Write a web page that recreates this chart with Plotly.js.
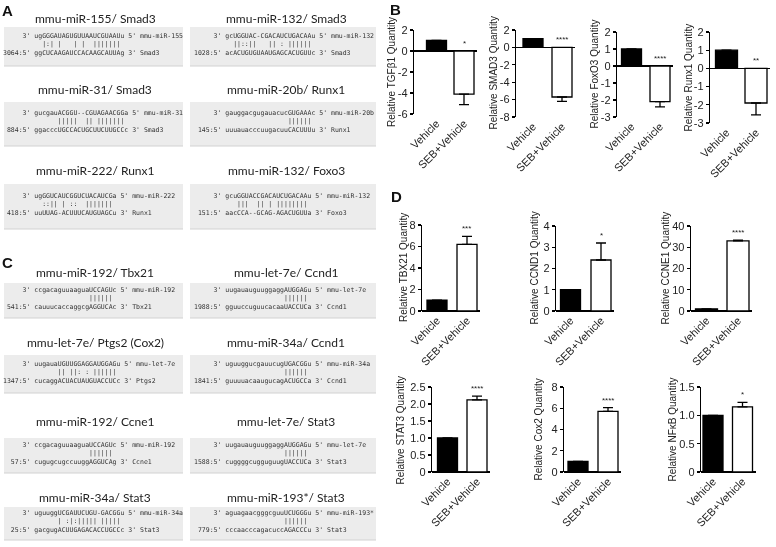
<!DOCTYPE html>
<html><head><meta charset="utf-8">
<script src="https://cdn.plot.ly/plotly-3.0.1.min.js"></script>
<style>html,body{margin:0;padding:0;background:#fff;}#chart{width:776px;height:547px;}#chart .main-svg{will-change:transform;}</style>
</head><body><div id="chart"></div>
<script>
// ---------------- DATA ----------------
const groups = ["Vehicle", "SEB+Vehicle"];
const genes = ["TGFβ1", "SMAD3", "FoxO3", "Runx1", "TBX21", "CCND1", "CCNE1", "STAT3", "Cox2", "NFκB"];
const vehicleValues = [1, 1, 1, 1, 1, 1, 1, 1, 1, 1];
const sebValues = [-4.1, -5.7, -2.1, -1.9, 6.2, 2.4, 33.0, 2.12, 5.7, 1.15];
const sebErrors = [1.0, 0.5, 0.3, 0.65, 0.75, 0.8, 0.4, 0.11, 0.35, 0.08];
const sigLabels = ["*", "****", "****", "**", "***", "*", "****", "****", "****", "*"];
const yRanges = [[-6, 2], [-8, 2], [-3, 2], [-3, 2], [0, 8], [0, 4], [0, 40], [0, 2.5], [0, 8], [0, 1.5]];
const yTickVals = [[-6,-4,-2,0,2], [-8,-6,-4,-2,0,2], [-3,-2,-1,0,1,2], [-3,-2,-1,0,1,2], [0,2,4,6,8], [0,1,2,3,4], [0,10,20,30,40], [0,0.5,1,1.5,2,2.5], [0,2,4,6,8], [0,0.5,1,1.5]];
const yTickText = [["-6","-4","-2","0","2"], ["-8","-6","-4","-2","0","2"], ["-3","-2","-1","0","1","2"], ["-3","-2","-1","0","1","2"], ["0","2","4","6","8"], ["0","1","2","3","4"], ["0","10","20","30","40"], ["0","0.5","1.0","1.5","2.0","2.5"], ["0","2","4","6","8"], ["0","0.5","1.0","1.5"]];

const panelLetters = ["A", "B", "C", "D"];
const alignTitles = ["mmu-miR-155/ Smad3", "mmu-miR-132/ Smad3", "mmu-miR-31/ Smad3", "mmu-miR-20b/ Runx1", "mmu-miR-222/ Runx1", "mmu-miR-132/ Foxo3", "mmu-miR-192/ Tbx21", "mmu-let-7e/ Ccnd1", "mmu-let-7e/ Ptgs2 (Cox2)", "mmu-miR-34a/ Ccnd1", "mmu-miR-192/ Ccne1", "mmu-let-7e/ Stat3", "mmu-miR-34a/ Stat3", "mmu-miR-193*/ Stat3"];
const mirnaNames = ["mmu-miR-155", "mmu-miR-132", "mmu-miR-31", "mmu-miR-20b", "mmu-miR-222", "mmu-miR-132", "mmu-miR-192", "mmu-let-7e", "mmu-let-7e", "mmu-miR-34a", "mmu-miR-192", "mmu-let-7e", "mmu-miR-34a", "mmu-miR-193*"];
const targetGenes = ["Smad3", "Smad3", "Smad3", "Runx1", "Runx1", "Foxo3", "Tbx21", "Ccnd1", "Ptgs2", "Ccnd1", "Ccne1", "Stat3", "Stat3", "Stat3"];
const targetPositions = ["3064", "1028", "884", "145", "418", "151", "541", "1988", "1347", "1841", "57", "1588", "25", "779"];
const mirnaSeqs = ["ugGGGAUAGUGUUAAUCGUAAUu", "gcUGGUAC-CGACAUCUGACAAu", "gucgauACGGU--CGUAGAACGGa", "gauggacgugauacucGUGAAAc", "ugGGUCAUCGGUCUACAUCGa", "gcuGGUACCGACAUCUGACAAu", "ccgacaguuaaguaUCCAGUc", "uugauauguuggaggAUGGAGu", "uugauaUGUUGGAGGAUGGAGu", "uguuggucgauucugUGACGGu", "ccgacaguuaaguaUCCAGUc", "uugauauguuggaggAUGGAGu", "uguuggUCGAUUCUGU-GACGGu", "aguagaacgggcguuUCUGGGu"];
const pairings = ["  |:| |   | |  |||||||", "  ||::||   || : ||||||", "      |||||  || |||||||", "                ||||||", "  ::|| | ::  |||||||", "   |||  || | ||||||||", "              ||||||", "               ||||||", "      || ||: : ||||||", "               ||||||", "              ||||||", "               ||||||", "      | :|:||||| |||||", "               ||||||"];
const targetSeqs = ["ggCUCAAGAUCCACAAGCAUUAg", "acACUGUGUAAUGAGCACUGUUc", "ggacccUGCCACUGCUUCUUGCCc", "uuuauacccuugacuuCACUUUu", "uuUUAG-ACUUUCAUGUAGCu", "aacCCA--GCAG-AGACUGUUa", "cauuucaccaggcgAGGUCAc", "gguuccuguucacaaUACCUCa", "cucaggACUACUAUGUACCUCc", "guuuuacaaugucagACUGCCa", "cugugcugccuuggAGGUCAg", "cuggggcugguguugUACCUCa", "gacgugACUUGAGACACCUGCCc", "cccaacccagacuccAGACCCu"];

// ---------------- LAYOUT GEOMETRY (pixels) ----------------
const W = 776, H = 547;
const chartGeom = [
  {a:414, c0:436.5, c1:464, w:20, top:30, bot:114, tx:391},
  {a:516, c0:533, c1:562, w:20, top:30, bot:117, tx:493},
  {a:617, c0:631.5, c1:660, w:20, top:32, bot:117, tx:594},
  {a:710, c0:726.5, c1:756, w:22, top:32, bot:123, tx:688},
  {a:422, c0:437, c1:467, w:20, top:225, bot:311, tx:403},
  {a:556, c0:570.5, c1:601, w:20, top:226, bot:311, tx:534},
  {a:691, c0:706.5, c1:738, w:22, top:226, bot:311, tx:665},
  {a:432, c0:447.5, c1:477, w:20, top:387, bot:472, tx:400},
  {a:564, c0:578, c1:608, w:20, top:387, bot:472, tx:538},
  {a:701, c0:713, c1:742.5, w:20, top:387, bot:472, tx:672}
];
const letterPos = [[7.5, 10.5], [395, 9.5], [7.5, 262], [397, 196]];
// rows of alignment boxes: [titleY, boxTop, boxBottom]
const rowGeom = [[18, 27, 66], [89, 102, 146], [170, 184, 229], [272, 283, 318], [343, 355, 393], [422, 438, 473], [497, 507, 540]];
const colGeom = [{titleX: 95, x0: 4, x1: 183, textX: 1}, {titleX: 286, x0: 190, x1: 376, textX: 192}];

const px = x => x / W;
const py = y => (H - y) / H;
const nb = s => s.replace(/ /g, '\u00A0');

const data = [];
const layout = {
  width: W, height: H,
  margin: {l: 0, r: 0, t: 0, b: 0},
  paper_bgcolor: '#ffffff', plot_bgcolor: 'rgba(0,0,0,0)',
  showlegend: false,
  font: {family: 'Liberation Sans, Arial, sans-serif', color: '#222'},
  annotations: [], shapes: []
};

genes.forEach((g, i) => {
  const G = chartGeom[i];
  const u = G.c1 - G.c0;
  const x0 = -(G.c0 - G.a) / u;
  const x1 = 1 + (G.w / 2 + 3) / u;
  const right = G.a + (x1 - x0) * u;
  const n = i + 1;
  const xa = 'x' + (n === 1 ? '' : n), ya = 'y' + (n === 1 ? '' : n);
  const neg = sebValues[i] < 0;
  data.push({
    type: 'bar', x: groups, y: [vehicleValues[i], sebValues[i]],
    xaxis: xa, yaxis: ya, width: G.w / u,
    marker: {color: ['#000000', '#ffffff'], line: {color: '#000000', width: 1.3}},
    error_y: {type: 'data', symmetric: false,
      array: [0, neg ? 0 : sebErrors[i]], arrayminus: [0, neg ? sebErrors[i] : 0],
      color: '#000000', thickness: 1.3, width: 5},
    hoverinfo: 'skip'
  });
  layout['xaxis' + (n === 1 ? '' : n)] = {
    domain: [px(G.a), px(right)], anchor: ya, type: 'category', range: [x0, x1],
    showline: false, showgrid: false, zeroline: false, ticks: '', tickangle: -45,
    tickfont: {size: 11, color: '#222'}, fixedrange: true
  };
  layout['yaxis' + (n === 1 ? '' : n)] = {
    domain: [py(G.bot), py(G.top)], anchor: xa, range: yRanges[i],
    tickvals: yTickVals[i], ticktext: yTickText[i],
    showline: true, linecolor: '#000', linewidth: 1.3,
    ticks: 'outside', ticklen: 3, tickwidth: 1.3, tickcolor: '#000',
    tickfont: {size: 11, color: '#222'}, showgrid: false,
    zeroline: true, zerolinecolor: '#000', zerolinewidth: 1.3,
    fixedrange: true
  };
  // y-axis title, placed beside its axis
  layout.annotations.push({
    xref: 'paper', yref: 'paper', x: px(G.tx), y: py((G.top + G.bot) / 2),
    xanchor: 'center', yanchor: 'middle', textangle: -90,
    text: 'Relative ' + g + ' Quantity', showarrow: false,
    font: {size: 10, color: '#222'}
  });
  layout.annotations.push({
    xref: xa, yref: ya, x: groups[1], y: neg ? 0 : sebValues[i] + sebErrors[i],
    text: sigLabels[i], showarrow: false, yanchor: 'bottom', yshift: 1,
    font: {size: 8, color: '#222'}
  });
});

panelLetters.forEach((L, i) => {
  layout.annotations.push({
    xref: 'paper', yref: 'paper', x: px(letterPos[i][0]), y: py(letterPos[i][1]),
    xanchor: 'center', yanchor: 'middle', text: '<b>' + L + '</b>', showarrow: false,
    font: {size: 15, color: '#111', family: 'Liberation Sans, Arial, sans-serif'}
  });
});

alignTitles.forEach((t, k) => {
  const R = rowGeom[Math.floor(k / 2)], C = colGeom[k % 2];
  layout.shapes.push({type: 'rect', xref: 'paper', yref: 'paper', x0: px(C.x0), x1: px(C.x1), y0: py(R[2]), y1: py(R[1]),
    fillcolor: '#ececec', line: {width: 0}, layer: 'below'});
  layout.shapes.push({type: 'line', xref: 'paper', yref: 'paper', x0: px(C.x0), x1: px(C.x1), y0: py(R[2]), y1: py(R[2]),
    line: {color: '#d2d2d2', width: 1}, layer: 'below'});
  layout.annotations.push({
    xref: 'paper', yref: 'paper', x: px(C.titleX), y: py(R[0]), xanchor: 'center', yanchor: 'middle',
    text: t, showarrow: false, font: {size: 12, color: '#222', family: 'Lato, sans-serif'}
  });
  const l1 = "     3' " + mirnaSeqs[k] + " 5' " + mirnaNames[k];
  const l2 = "        " + pairings[k];
  const l3 = (targetPositions[k] + ":5'").padStart(7, ' ') + " " + targetSeqs[k] + " 3' " + targetGenes[k];
  layout.annotations.push({
    xref: 'paper', yref: 'paper', x: px(C.textX), y: py((R[1] + R[2]) / 2 - 2), xanchor: 'left', yanchor: 'middle',
    align: 'left', text: [l1, l2, l3].map(nb).join('<br>'), showarrow: false,
    font: {size: 6.5, color: '#333', family: 'DejaVu Sans Mono, monospace'}
  });
});

Plotly.newPlot('chart', data, layout, {displayModeBar: false, staticPlot: true});
</script></body></html>
